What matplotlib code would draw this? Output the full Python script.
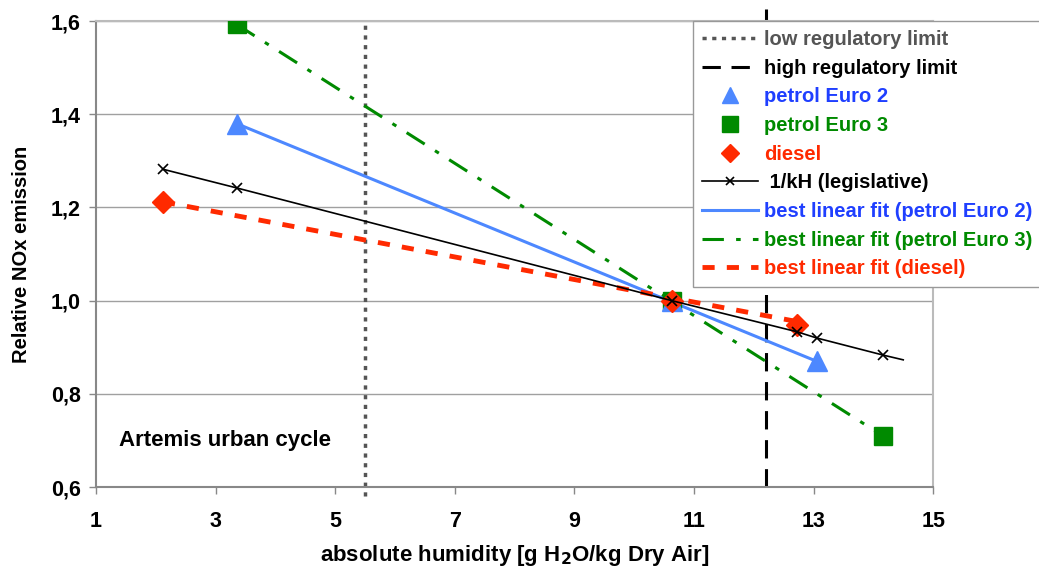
import matplotlib
matplotlib.use("Agg")
import matplotlib.pyplot as plt
from matplotlib.ticker import FuncFormatter

# ---- data ----
euro2_x = [3.35, 10.63, 13.05]
euro2_y = [1.38, 1.0, 0.870]
euro3_x = [3.35, 10.63, 14.17]
euro3_y = [1.593, 1.0, 0.709]
diesel_x = [2.12, 10.63, 12.73]
diesel_y = [1.212, 1.0, 0.948]
kh_x = [2.12, 3.35, 10.63, 12.73, 13.05, 14.17, 14.5]
kh_y = [1.282, 1.242, 1.0, 0.933, 0.920, 0.883, 0.873]
kh_marked = [0, 1, 2, 3, 4, 5]
fit2_x = [3.35, 13.05]
fit2_y = [1.38, 0.870]
fit3_x = [3.35, 14.17]
fit3_y = [1.593, 0.709]
fitd_x = [2.12, 12.73]
fitd_y = [1.212, 0.955]
low_limit = 5.5
high_limit = 12.2
x_ticks = [1, 3, 5, 7, 9, 11, 13, 15]
y_ticks = [0.6, 0.8, 1.0, 1.2, 1.4, 1.6]

plt.rcParams['font.family'] = ['Liberation Sans', 'DejaVu Sans']

fig = plt.figure(figsize=(10.39, 5.69), dpi=100)
ax = fig.add_axes([0.0924, 0.144, 0.8057, 0.819])

ax.set_xlim(1, 15)
ax.set_ylim(0.6, 1.6)
ax.set_yticks(y_ticks)
ax.set_xticks(x_ticks)
ax.yaxis.grid(True, color='#a0a0a0', lw=1)
ax.set_axisbelow(True)

c_blue_m = '#4d88ff'
c_blue_t = '#1f3fff'
c_green = '#008a00'
c_red = '#ff2a00'
c_grey = '#555555'

l_low = ax.axvline(low_limit, ymin=-0.02, ymax=1.0, color=c_grey, lw=2.5, ls=(0, (1.2, 1.6)), clip_on=False, zorder=2)
l_high = ax.axvline(high_limit, ymin=0.0, ymax=1.025, color='black', lw=2.2, ls=(0, (6, 3.5)), clip_on=False, zorder=2)

l_f3, = ax.plot(fit3_x, fit3_y, color=c_green, lw=2.2, ls=(0, (7, 4, 1.5, 4)), zorder=3)
l_f2, = ax.plot(fit2_x, fit2_y, color=c_blue_m, lw=2.2, zorder=3)
l_fd, = ax.plot(fitd_x, fitd_y, color=c_red, lw=3.5, ls=(0, (2.5, 2.5)), zorder=3)
l_kh, = ax.plot(kh_x, kh_y, color='black', lw=1.2, marker='x', ms=7, mew=1.2, markevery=kh_marked, zorder=6)

m3, = ax.plot(euro3_x, euro3_y, ls='none', marker='s', ms=13, color=c_green, zorder=4)
m2, = ax.plot(euro2_x, euro2_y, ls='none', marker='^', ms=14, color=c_blue_m, zorder=4)
md, = ax.plot(diesel_x, diesel_y, ls='none', marker='D', ms=11, color=c_red, zorder=5)

ax.yaxis.set_major_formatter(FuncFormatter(lambda v, p: f"{v:.1f}".replace('.', ',')))
for lab in ax.get_xticklabels() + ax.get_yticklabels():
    lab.set_fontweight('bold')
    lab.set_fontsize(15.5)
ax.tick_params(axis='x', direction='out', length=5, width=1, color='#888888', pad=12)
ax.tick_params(axis='y', direction='out', length=5, width=1, color='#888888', pad=6)

for s in ['left', 'bottom']:
    ax.spines[s].set_color('#888888')
    ax.spines[s].set_linewidth(1.5)
for s in ['top', 'right']:
    ax.spines[s].set_color('#bbbbbb')
    ax.spines[s].set_linewidth(1.5)

ax.set_xlabel('absolute humidity [g H$_\\mathbf{2}$O/kg Dry Air]', fontsize=16, fontweight='bold', labelpad=8)
ax.set_ylabel('Relative NOx emission', fontsize=14.5, fontweight='bold', labelpad=14)

ax.text(1.38, 0.70, 'Artemis urban cycle', fontsize=16, fontweight='bold', va='center', ha='left')

handles = [l_low, l_high, m2, m3, md, l_kh, l_f2, l_f3, l_fd]
labels = ['low regulatory limit', 'high regulatory limit', 'petrol Euro 2', 'petrol Euro 3',
          'diesel', ' 1/kH (legislative)', 'best linear fit (petrol Euro 2)',
          'best linear fit (petrol Euro 3)', 'best linear fit (diesel)']
text_colors = [c_grey, 'black', c_blue_t, c_green, c_red, 'black', c_blue_t, c_green, c_red]
leg = fig.legend(handles, labels, loc='upper left', bbox_to_anchor=(693 / 1039, 1 - 21 / 569),
                 frameon=True, fancybox=False, edgecolor='#999999', framealpha=1,
                 prop={'weight': 'bold', 'size': 14.5}, handlelength=2.8, handletextpad=0.3,
                 labelspacing=0.48, borderpad=0.45, borderaxespad=0, markerscale=0.85)
leg.get_frame().set_linewidth(1.0)
for t, c in zip(leg.get_texts(), text_colors):
    t.set_color(c)

fig.savefig('out.png', dpi=100)
